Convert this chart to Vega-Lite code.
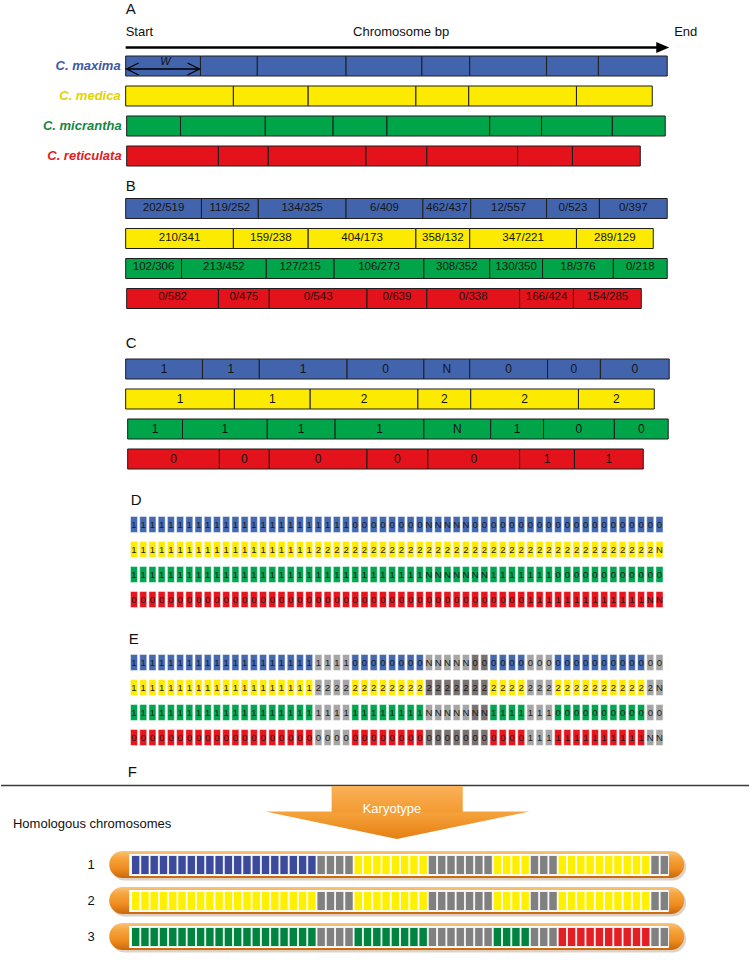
{
"$schema":"https://vega.github.io/schema/vega-lite/v6.json",
"width":750,"height":960,"padding":0,
"autosize":{"type":"fit","contains":"padding"},
"background":"white",
"config":{"view":{"stroke":null},"font":"Liberation Sans"},
"resolve":{"scale":{"x":"independent","y":"independent","color":"independent"}},
"datasets":{
"segs":[
{"p":"A","sp":"C. maxima","i":1,"s":125,"e":200,"l":""},
{"p":"A","sp":"C. maxima","i":2,"s":200,"e":257,"l":""},
{"p":"A","sp":"C. maxima","i":3,"s":257,"e":346,"l":""},
{"p":"A","sp":"C. maxima","i":4,"s":346,"e":422,"l":""},
{"p":"A","sp":"C. maxima","i":5,"s":422,"e":470,"l":""},
{"p":"A","sp":"C. maxima","i":6,"s":470,"e":547,"l":""},
{"p":"A","sp":"C. maxima","i":7,"s":547,"e":599,"l":""},
{"p":"A","sp":"C. maxima","i":8,"s":599,"e":668,"l":""},
{"p":"A","sp":"C. medica","i":1,"s":125,"e":233,"l":""},
{"p":"A","sp":"C. medica","i":2,"s":233,"e":308,"l":""},
{"p":"A","sp":"C. medica","i":3,"s":308,"e":416,"l":""},
{"p":"A","sp":"C. medica","i":4,"s":416,"e":469,"l":""},
{"p":"A","sp":"C. medica","i":5,"s":469,"e":577,"l":""},
{"p":"A","sp":"C. medica","i":6,"s":577,"e":653,"l":""},
{"p":"A","sp":"C. micrantha","i":1,"s":126,"e":180,"l":""},
{"p":"A","sp":"C. micrantha","i":2,"s":180,"e":265,"l":""},
{"p":"A","sp":"C. micrantha","i":3,"s":265,"e":333,"l":""},
{"p":"A","sp":"C. micrantha","i":4,"s":333,"e":387,"l":""},
{"p":"A","sp":"C. micrantha","i":5,"s":387,"e":490,"l":""},
{"p":"A","sp":"C. micrantha","i":6,"s":490,"e":542,"l":""},
{"p":"A","sp":"C. micrantha","i":7,"s":542,"e":613,"l":""},
{"p":"A","sp":"C. micrantha","i":8,"s":613,"e":666,"l":""},
{"p":"A","sp":"C. reticulata","i":1,"s":126,"e":218,"l":""},
{"p":"A","sp":"C. reticulata","i":2,"s":218,"e":268,"l":""},
{"p":"A","sp":"C. reticulata","i":3,"s":268,"e":366,"l":""},
{"p":"A","sp":"C. reticulata","i":4,"s":366,"e":427,"l":""},
{"p":"A","sp":"C. reticulata","i":5,"s":427,"e":518,"l":""},
{"p":"A","sp":"C. reticulata","i":6,"s":518,"e":573,"l":""},
{"p":"A","sp":"C. reticulata","i":7,"s":573,"e":641,"l":""},
{"p":"B","sp":"C. maxima","i":1,"s":125,"e":201,"l":"202/519"},
{"p":"B","sp":"C. maxima","i":2,"s":201,"e":258,"l":"119/252"},
{"p":"B","sp":"C. maxima","i":3,"s":258,"e":346,"l":"134/325"},
{"p":"B","sp":"C. maxima","i":4,"s":346,"e":423,"l":"6/409"},
{"p":"B","sp":"C. maxima","i":5,"s":423,"e":471,"l":"462/437"},
{"p":"B","sp":"C. maxima","i":6,"s":471,"e":547,"l":"12/557"},
{"p":"B","sp":"C. maxima","i":7,"s":547,"e":600,"l":"0/523"},
{"p":"B","sp":"C. maxima","i":8,"s":600,"e":668,"l":"0/397"},
{"p":"B","sp":"C. medica","i":1,"s":125,"e":233,"l":"210/341"},
{"p":"B","sp":"C. medica","i":2,"s":233,"e":308,"l":"159/238"},
{"p":"B","sp":"C. medica","i":3,"s":308,"e":416,"l":"404/173"},
{"p":"B","sp":"C. medica","i":4,"s":416,"e":470,"l":"358/132"},
{"p":"B","sp":"C. medica","i":5,"s":470,"e":577,"l":"347/221"},
{"p":"B","sp":"C. medica","i":6,"s":577,"e":654,"l":"289/129"},
{"p":"B","sp":"C. micrantha","i":1,"s":125,"e":181,"l":"102/306"},
{"p":"B","sp":"C. micrantha","i":2,"s":181,"e":266,"l":"213/452"},
{"p":"B","sp":"C. micrantha","i":3,"s":266,"e":334,"l":"127/215"},
{"p":"B","sp":"C. micrantha","i":4,"s":334,"e":424,"l":"106/273"},
{"p":"B","sp":"C. micrantha","i":5,"s":424,"e":490,"l":"308/352"},
{"p":"B","sp":"C. micrantha","i":6,"s":490,"e":543,"l":"130/350"},
{"p":"B","sp":"C. micrantha","i":7,"s":543,"e":614,"l":"18/376"},
{"p":"B","sp":"C. micrantha","i":8,"s":614,"e":668,"l":"0/218"},
{"p":"B","sp":"C. reticulata","i":1,"s":126,"e":218,"l":"0/582"},
{"p":"B","sp":"C. reticulata","i":2,"s":218,"e":269,"l":"0/475"},
{"p":"B","sp":"C. reticulata","i":3,"s":269,"e":367,"l":"0/543"},
{"p":"B","sp":"C. reticulata","i":4,"s":367,"e":427,"l":"0/639"},
{"p":"B","sp":"C. reticulata","i":5,"s":427,"e":520,"l":"0/338"},
{"p":"B","sp":"C. reticulata","i":6,"s":520,"e":574,"l":"166/424"},
{"p":"B","sp":"C. reticulata","i":7,"s":574,"e":642,"l":"154/285"},
{"p":"C","sp":"C. maxima","i":1,"s":125,"e":202,"l":"1"},
{"p":"C","sp":"C. maxima","i":2,"s":202,"e":259,"l":"1"},
{"p":"C","sp":"C. maxima","i":3,"s":259,"e":347,"l":"1"},
{"p":"C","sp":"C. maxima","i":4,"s":347,"e":424,"l":"0"},
{"p":"C","sp":"C. maxima","i":5,"s":424,"e":470,"l":"N"},
{"p":"C","sp":"C. maxima","i":6,"s":470,"e":548,"l":"0"},
{"p":"C","sp":"C. maxima","i":7,"s":548,"e":601,"l":"0"},
{"p":"C","sp":"C. maxima","i":8,"s":601,"e":670,"l":"0"},
{"p":"C","sp":"C. medica","i":1,"s":125,"e":234,"l":"1"},
{"p":"C","sp":"C. medica","i":2,"s":234,"e":310,"l":"1"},
{"p":"C","sp":"C. medica","i":3,"s":310,"e":418,"l":"2"},
{"p":"C","sp":"C. medica","i":4,"s":418,"e":471,"l":"2"},
{"p":"C","sp":"C. medica","i":5,"s":471,"e":579,"l":"2"},
{"p":"C","sp":"C. medica","i":6,"s":579,"e":655,"l":"2"},
{"p":"C","sp":"C. micrantha","i":1,"s":127,"e":182,"l":"1"},
{"p":"C","sp":"C. micrantha","i":2,"s":182,"e":267,"l":"1"},
{"p":"C","sp":"C. micrantha","i":3,"s":267,"e":335,"l":"1"},
{"p":"C","sp":"C. micrantha","i":4,"s":335,"e":424,"l":"1"},
{"p":"C","sp":"C. micrantha","i":5,"s":424,"e":491,"l":"N"},
{"p":"C","sp":"C. micrantha","i":6,"s":491,"e":544,"l":"1"},
{"p":"C","sp":"C. micrantha","i":7,"s":544,"e":615,"l":"0"},
{"p":"C","sp":"C. micrantha","i":8,"s":615,"e":669,"l":"0"},
{"p":"C","sp":"C. reticulata","i":1,"s":127,"e":219,"l":"0"},
{"p":"C","sp":"C. reticulata","i":2,"s":219,"e":269,"l":"0"},
{"p":"C","sp":"C. reticulata","i":3,"s":269,"e":367,"l":"0"},
{"p":"C","sp":"C. reticulata","i":4,"s":367,"e":428,"l":"0"},
{"p":"C","sp":"C. reticulata","i":5,"s":428,"e":520,"l":"0"},
{"p":"C","sp":"C. reticulata","i":6,"s":520,"e":575,"l":"1"},
{"p":"C","sp":"C. reticulata","i":7,"s":575,"e":644,"l":"1"}
],
"cells":[
{"sp":"maxima","k":0,"v":"1","e":"maxima"},{"sp":"maxima","k":1,"v":"1","e":"maxima"},{"sp":"maxima","k":2,"v":"1","e":"maxima"},{"sp":"maxima","k":3,"v":"1","e":"maxima"},{"sp":"maxima","k":4,"v":"1","e":"maxima"},{"sp":"maxima","k":5,"v":"1","e":"maxima"},{"sp":"maxima","k":6,"v":"1","e":"maxima"},{"sp":"maxima","k":7,"v":"1","e":"maxima"},{"sp":"maxima","k":8,"v":"1","e":"maxima"},{"sp":"maxima","k":9,"v":"1","e":"maxima"},
{"sp":"maxima","k":10,"v":"1","e":"maxima"},{"sp":"maxima","k":11,"v":"1","e":"maxima"},{"sp":"maxima","k":12,"v":"1","e":"maxima"},{"sp":"maxima","k":13,"v":"1","e":"maxima"},{"sp":"maxima","k":14,"v":"1","e":"maxima"},{"sp":"maxima","k":15,"v":"1","e":"maxima"},{"sp":"maxima","k":16,"v":"1","e":"maxima"},{"sp":"maxima","k":17,"v":"1","e":"maxima"},{"sp":"maxima","k":18,"v":"1","e":"maxima"},{"sp":"maxima","k":19,"v":"1","e":"maxima"},
{"sp":"maxima","k":20,"v":"1","e":"gray"},{"sp":"maxima","k":21,"v":"1","e":"gray"},{"sp":"maxima","k":22,"v":"1","e":"gray"},{"sp":"maxima","k":23,"v":"1","e":"gray"},
{"sp":"maxima","k":24,"v":"0","e":"maxima"},{"sp":"maxima","k":25,"v":"0","e":"maxima"},{"sp":"maxima","k":26,"v":"0","e":"maxima"},{"sp":"maxima","k":27,"v":"0","e":"maxima"},{"sp":"maxima","k":28,"v":"0","e":"maxima"},{"sp":"maxima","k":29,"v":"0","e":"maxima"},{"sp":"maxima","k":30,"v":"0","e":"maxima"},{"sp":"maxima","k":31,"v":"0","e":"maxima"},
{"sp":"maxima","k":32,"v":"N","e":"gray"},{"sp":"maxima","k":33,"v":"N","e":"gray"},{"sp":"maxima","k":34,"v":"N","e":"gray"},{"sp":"maxima","k":35,"v":"N","e":"gray"},{"sp":"maxima","k":36,"v":"N","e":"gray"},
{"sp":"maxima","k":37,"v":"0","e":"dark"},{"sp":"maxima","k":38,"v":"0","e":"dark"},
{"sp":"maxima","k":39,"v":"0","e":"maxima"},{"sp":"maxima","k":40,"v":"0","e":"maxima"},{"sp":"maxima","k":41,"v":"0","e":"maxima"},{"sp":"maxima","k":42,"v":"0","e":"maxima"},
{"sp":"maxima","k":43,"v":"0","e":"gray"},{"sp":"maxima","k":44,"v":"0","e":"gray"},{"sp":"maxima","k":45,"v":"0","e":"gray"},
{"sp":"maxima","k":46,"v":"0","e":"maxima"},{"sp":"maxima","k":47,"v":"0","e":"maxima"},{"sp":"maxima","k":48,"v":"0","e":"maxima"},{"sp":"maxima","k":49,"v":"0","e":"maxima"},{"sp":"maxima","k":50,"v":"0","e":"maxima"},{"sp":"maxima","k":51,"v":"0","e":"maxima"},{"sp":"maxima","k":52,"v":"0","e":"maxima"},{"sp":"maxima","k":53,"v":"0","e":"maxima"},{"sp":"maxima","k":54,"v":"0","e":"maxima"},{"sp":"maxima","k":55,"v":"0","e":"maxima"},
{"sp":"maxima","k":56,"v":"0","e":"gray"},{"sp":"maxima","k":57,"v":"0","e":"gray"},
{"sp":"medica","k":0,"v":"1","e":"medica"},{"sp":"medica","k":1,"v":"1","e":"medica"},{"sp":"medica","k":2,"v":"1","e":"medica"},{"sp":"medica","k":3,"v":"1","e":"medica"},{"sp":"medica","k":4,"v":"1","e":"medica"},{"sp":"medica","k":5,"v":"1","e":"medica"},{"sp":"medica","k":6,"v":"1","e":"medica"},{"sp":"medica","k":7,"v":"1","e":"medica"},{"sp":"medica","k":8,"v":"1","e":"medica"},{"sp":"medica","k":9,"v":"1","e":"medica"},
{"sp":"medica","k":10,"v":"1","e":"medica"},{"sp":"medica","k":11,"v":"1","e":"medica"},{"sp":"medica","k":12,"v":"1","e":"medica"},{"sp":"medica","k":13,"v":"1","e":"medica"},{"sp":"medica","k":14,"v":"1","e":"medica"},{"sp":"medica","k":15,"v":"1","e":"medica"},{"sp":"medica","k":16,"v":"1","e":"medica"},{"sp":"medica","k":17,"v":"1","e":"medica"},{"sp":"medica","k":18,"v":"1","e":"medica"},{"sp":"medica","k":19,"v":"1","e":"medica"},
{"sp":"medica","k":20,"v":"2","e":"gray"},{"sp":"medica","k":21,"v":"2","e":"gray"},{"sp":"medica","k":22,"v":"2","e":"gray"},{"sp":"medica","k":23,"v":"2","e":"gray"},
{"sp":"medica","k":24,"v":"2","e":"medica"},{"sp":"medica","k":25,"v":"2","e":"medica"},{"sp":"medica","k":26,"v":"2","e":"medica"},{"sp":"medica","k":27,"v":"2","e":"medica"},{"sp":"medica","k":28,"v":"2","e":"medica"},{"sp":"medica","k":29,"v":"2","e":"medica"},{"sp":"medica","k":30,"v":"2","e":"medica"},{"sp":"medica","k":31,"v":"2","e":"medica"},
{"sp":"medica","k":32,"v":"2","e":"dark"},{"sp":"medica","k":33,"v":"2","e":"dark"},{"sp":"medica","k":34,"v":"2","e":"dark"},{"sp":"medica","k":35,"v":"2","e":"dark"},{"sp":"medica","k":36,"v":"2","e":"dark"},{"sp":"medica","k":37,"v":"2","e":"dark"},{"sp":"medica","k":38,"v":"2","e":"dark"},
{"sp":"medica","k":39,"v":"2","e":"medica"},{"sp":"medica","k":40,"v":"2","e":"medica"},{"sp":"medica","k":41,"v":"2","e":"medica"},{"sp":"medica","k":42,"v":"2","e":"medica"},
{"sp":"medica","k":43,"v":"2","e":"gray"},{"sp":"medica","k":44,"v":"2","e":"gray"},{"sp":"medica","k":45,"v":"2","e":"gray"},
{"sp":"medica","k":46,"v":"2","e":"medica"},{"sp":"medica","k":47,"v":"2","e":"medica"},{"sp":"medica","k":48,"v":"2","e":"medica"},{"sp":"medica","k":49,"v":"2","e":"medica"},{"sp":"medica","k":50,"v":"2","e":"medica"},{"sp":"medica","k":51,"v":"2","e":"medica"},{"sp":"medica","k":52,"v":"2","e":"medica"},{"sp":"medica","k":53,"v":"2","e":"medica"},{"sp":"medica","k":54,"v":"2","e":"medica"},{"sp":"medica","k":55,"v":"2","e":"medica"},
{"sp":"medica","k":56,"v":"2","e":"gray"},{"sp":"medica","k":57,"v":"N","e":"gray"},
{"sp":"micrantha","k":0,"v":"1","e":"micrantha"},{"sp":"micrantha","k":1,"v":"1","e":"micrantha"},{"sp":"micrantha","k":2,"v":"1","e":"micrantha"},{"sp":"micrantha","k":3,"v":"1","e":"micrantha"},{"sp":"micrantha","k":4,"v":"1","e":"micrantha"},{"sp":"micrantha","k":5,"v":"1","e":"micrantha"},{"sp":"micrantha","k":6,"v":"1","e":"micrantha"},{"sp":"micrantha","k":7,"v":"1","e":"micrantha"},{"sp":"micrantha","k":8,"v":"1","e":"micrantha"},{"sp":"micrantha","k":9,"v":"1","e":"micrantha"},
{"sp":"micrantha","k":10,"v":"1","e":"micrantha"},{"sp":"micrantha","k":11,"v":"1","e":"micrantha"},{"sp":"micrantha","k":12,"v":"1","e":"micrantha"},{"sp":"micrantha","k":13,"v":"1","e":"micrantha"},{"sp":"micrantha","k":14,"v":"1","e":"micrantha"},{"sp":"micrantha","k":15,"v":"1","e":"micrantha"},{"sp":"micrantha","k":16,"v":"1","e":"micrantha"},{"sp":"micrantha","k":17,"v":"1","e":"micrantha"},{"sp":"micrantha","k":18,"v":"1","e":"micrantha"},{"sp":"micrantha","k":19,"v":"1","e":"micrantha"},
{"sp":"micrantha","k":20,"v":"1","e":"gray"},{"sp":"micrantha","k":21,"v":"1","e":"gray"},{"sp":"micrantha","k":22,"v":"1","e":"gray"},{"sp":"micrantha","k":23,"v":"1","e":"gray"},
{"sp":"micrantha","k":24,"v":"1","e":"micrantha"},{"sp":"micrantha","k":25,"v":"1","e":"micrantha"},{"sp":"micrantha","k":26,"v":"1","e":"micrantha"},{"sp":"micrantha","k":27,"v":"1","e":"micrantha"},{"sp":"micrantha","k":28,"v":"1","e":"micrantha"},{"sp":"micrantha","k":29,"v":"1","e":"micrantha"},{"sp":"micrantha","k":30,"v":"1","e":"micrantha"},{"sp":"micrantha","k":31,"v":"1","e":"micrantha"},
{"sp":"micrantha","k":32,"v":"N","e":"gray"},{"sp":"micrantha","k":33,"v":"N","e":"gray"},{"sp":"micrantha","k":34,"v":"N","e":"gray"},{"sp":"micrantha","k":35,"v":"N","e":"gray"},{"sp":"micrantha","k":36,"v":"N","e":"gray"},
{"sp":"micrantha","k":37,"v":"N","e":"dark"},{"sp":"micrantha","k":38,"v":"N","e":"dark"},
{"sp":"micrantha","k":39,"v":"1","e":"micrantha"},{"sp":"micrantha","k":40,"v":"1","e":"micrantha"},{"sp":"micrantha","k":41,"v":"1","e":"micrantha"},{"sp":"micrantha","k":42,"v":"1","e":"micrantha"},
{"sp":"micrantha","k":43,"v":"1","e":"gray"},{"sp":"micrantha","k":44,"v":"1","e":"gray"},{"sp":"micrantha","k":45,"v":"1","e":"gray"},
{"sp":"micrantha","k":46,"v":"0","e":"micrantha"},{"sp":"micrantha","k":47,"v":"0","e":"micrantha"},{"sp":"micrantha","k":48,"v":"0","e":"micrantha"},{"sp":"micrantha","k":49,"v":"0","e":"micrantha"},{"sp":"micrantha","k":50,"v":"0","e":"micrantha"},{"sp":"micrantha","k":51,"v":"0","e":"micrantha"},{"sp":"micrantha","k":52,"v":"0","e":"micrantha"},{"sp":"micrantha","k":53,"v":"0","e":"micrantha"},{"sp":"micrantha","k":54,"v":"0","e":"micrantha"},{"sp":"micrantha","k":55,"v":"0","e":"micrantha"},
{"sp":"micrantha","k":56,"v":"0","e":"gray"},{"sp":"micrantha","k":57,"v":"0","e":"gray"},
{"sp":"reticulata","k":0,"v":"0","e":"reticulata"},{"sp":"reticulata","k":1,"v":"0","e":"reticulata"},{"sp":"reticulata","k":2,"v":"0","e":"reticulata"},{"sp":"reticulata","k":3,"v":"0","e":"reticulata"},{"sp":"reticulata","k":4,"v":"0","e":"reticulata"},{"sp":"reticulata","k":5,"v":"0","e":"reticulata"},{"sp":"reticulata","k":6,"v":"0","e":"reticulata"},{"sp":"reticulata","k":7,"v":"0","e":"reticulata"},{"sp":"reticulata","k":8,"v":"0","e":"reticulata"},{"sp":"reticulata","k":9,"v":"0","e":"reticulata"},
{"sp":"reticulata","k":10,"v":"0","e":"reticulata"},{"sp":"reticulata","k":11,"v":"0","e":"reticulata"},{"sp":"reticulata","k":12,"v":"0","e":"reticulata"},{"sp":"reticulata","k":13,"v":"0","e":"reticulata"},{"sp":"reticulata","k":14,"v":"0","e":"reticulata"},{"sp":"reticulata","k":15,"v":"0","e":"reticulata"},{"sp":"reticulata","k":16,"v":"0","e":"reticulata"},{"sp":"reticulata","k":17,"v":"0","e":"reticulata"},{"sp":"reticulata","k":18,"v":"0","e":"reticulata"},{"sp":"reticulata","k":19,"v":"0","e":"reticulata"},
{"sp":"reticulata","k":20,"v":"0","e":"gray"},{"sp":"reticulata","k":21,"v":"0","e":"gray"},{"sp":"reticulata","k":22,"v":"0","e":"gray"},{"sp":"reticulata","k":23,"v":"0","e":"gray"},
{"sp":"reticulata","k":24,"v":"0","e":"reticulata"},{"sp":"reticulata","k":25,"v":"0","e":"reticulata"},{"sp":"reticulata","k":26,"v":"0","e":"reticulata"},{"sp":"reticulata","k":27,"v":"0","e":"reticulata"},{"sp":"reticulata","k":28,"v":"0","e":"reticulata"},{"sp":"reticulata","k":29,"v":"0","e":"reticulata"},{"sp":"reticulata","k":30,"v":"0","e":"reticulata"},{"sp":"reticulata","k":31,"v":"0","e":"reticulata"},
{"sp":"reticulata","k":32,"v":"0","e":"dark"},{"sp":"reticulata","k":33,"v":"0","e":"dark"},{"sp":"reticulata","k":34,"v":"0","e":"dark"},{"sp":"reticulata","k":35,"v":"0","e":"dark"},{"sp":"reticulata","k":36,"v":"0","e":"dark"},{"sp":"reticulata","k":37,"v":"0","e":"dark"},{"sp":"reticulata","k":38,"v":"0","e":"dark"},
{"sp":"reticulata","k":39,"v":"0","e":"reticulata"},{"sp":"reticulata","k":40,"v":"0","e":"reticulata"},{"sp":"reticulata","k":41,"v":"0","e":"reticulata"},{"sp":"reticulata","k":42,"v":"0","e":"reticulata"},
{"sp":"reticulata","k":43,"v":"1","e":"gray"},{"sp":"reticulata","k":44,"v":"1","e":"gray"},{"sp":"reticulata","k":45,"v":"1","e":"gray"},
{"sp":"reticulata","k":46,"v":"1","e":"reticulata"},{"sp":"reticulata","k":47,"v":"1","e":"reticulata"},{"sp":"reticulata","k":48,"v":"1","e":"reticulata"},{"sp":"reticulata","k":49,"v":"1","e":"reticulata"},{"sp":"reticulata","k":50,"v":"1","e":"reticulata"},{"sp":"reticulata","k":51,"v":"1","e":"reticulata"},{"sp":"reticulata","k":52,"v":"1","e":"reticulata"},{"sp":"reticulata","k":53,"v":"1","e":"reticulata"},{"sp":"reticulata","k":54,"v":"1","e":"reticulata"},{"sp":"reticulata","k":55,"v":"1","e":"reticulata"},
{"sp":"reticulata","k":56,"v":"N","e":"gray"},{"sp":"reticulata","k":57,"v":"N","e":"gray"}
],
"fcells":[
{"chr":"1","k":0,"c":"maxima"},{"chr":"1","k":1,"c":"maxima"},{"chr":"1","k":2,"c":"maxima"},{"chr":"1","k":3,"c":"maxima"},{"chr":"1","k":4,"c":"maxima"},{"chr":"1","k":5,"c":"maxima"},{"chr":"1","k":6,"c":"maxima"},{"chr":"1","k":7,"c":"maxima"},{"chr":"1","k":8,"c":"maxima"},{"chr":"1","k":9,"c":"maxima"},
{"chr":"1","k":10,"c":"maxima"},{"chr":"1","k":11,"c":"maxima"},{"chr":"1","k":12,"c":"maxima"},{"chr":"1","k":13,"c":"maxima"},{"chr":"1","k":14,"c":"maxima"},{"chr":"1","k":15,"c":"maxima"},{"chr":"1","k":16,"c":"maxima"},{"chr":"1","k":17,"c":"maxima"},{"chr":"1","k":18,"c":"maxima"},{"chr":"1","k":19,"c":"maxima"},
{"chr":"1","k":20,"c":"gray"},{"chr":"1","k":21,"c":"gray"},{"chr":"1","k":22,"c":"gray"},{"chr":"1","k":23,"c":"gray"},
{"chr":"1","k":24,"c":"medica"},{"chr":"1","k":25,"c":"medica"},{"chr":"1","k":26,"c":"medica"},{"chr":"1","k":27,"c":"medica"},{"chr":"1","k":28,"c":"medica"},{"chr":"1","k":29,"c":"medica"},{"chr":"1","k":30,"c":"medica"},{"chr":"1","k":31,"c":"medica"},
{"chr":"1","k":32,"c":"gray"},{"chr":"1","k":33,"c":"gray"},{"chr":"1","k":34,"c":"gray"},{"chr":"1","k":35,"c":"gray"},{"chr":"1","k":36,"c":"gray"},{"chr":"1","k":37,"c":"gray"},{"chr":"1","k":38,"c":"gray"},
{"chr":"1","k":39,"c":"medica"},{"chr":"1","k":40,"c":"medica"},{"chr":"1","k":41,"c":"medica"},{"chr":"1","k":42,"c":"medica"},
{"chr":"1","k":43,"c":"gray"},{"chr":"1","k":44,"c":"gray"},{"chr":"1","k":45,"c":"gray"},
{"chr":"1","k":46,"c":"medica"},{"chr":"1","k":47,"c":"medica"},{"chr":"1","k":48,"c":"medica"},{"chr":"1","k":49,"c":"medica"},{"chr":"1","k":50,"c":"medica"},{"chr":"1","k":51,"c":"medica"},{"chr":"1","k":52,"c":"medica"},{"chr":"1","k":53,"c":"medica"},{"chr":"1","k":54,"c":"medica"},{"chr":"1","k":55,"c":"medica"},
{"chr":"1","k":56,"c":"gray"},{"chr":"1","k":57,"c":"gray"},
{"chr":"2","k":0,"c":"medica"},{"chr":"2","k":1,"c":"medica"},{"chr":"2","k":2,"c":"medica"},{"chr":"2","k":3,"c":"medica"},{"chr":"2","k":4,"c":"medica"},{"chr":"2","k":5,"c":"medica"},{"chr":"2","k":6,"c":"medica"},{"chr":"2","k":7,"c":"medica"},{"chr":"2","k":8,"c":"medica"},{"chr":"2","k":9,"c":"medica"},
{"chr":"2","k":10,"c":"medica"},{"chr":"2","k":11,"c":"medica"},{"chr":"2","k":12,"c":"medica"},{"chr":"2","k":13,"c":"medica"},{"chr":"2","k":14,"c":"medica"},{"chr":"2","k":15,"c":"medica"},{"chr":"2","k":16,"c":"medica"},{"chr":"2","k":17,"c":"medica"},{"chr":"2","k":18,"c":"medica"},{"chr":"2","k":19,"c":"medica"},
{"chr":"2","k":20,"c":"gray"},{"chr":"2","k":21,"c":"gray"},{"chr":"2","k":22,"c":"gray"},{"chr":"2","k":23,"c":"gray"},
{"chr":"2","k":24,"c":"medica"},{"chr":"2","k":25,"c":"medica"},{"chr":"2","k":26,"c":"medica"},{"chr":"2","k":27,"c":"medica"},{"chr":"2","k":28,"c":"medica"},{"chr":"2","k":29,"c":"medica"},{"chr":"2","k":30,"c":"medica"},{"chr":"2","k":31,"c":"medica"},
{"chr":"2","k":32,"c":"gray"},{"chr":"2","k":33,"c":"gray"},{"chr":"2","k":34,"c":"gray"},{"chr":"2","k":35,"c":"gray"},{"chr":"2","k":36,"c":"gray"},{"chr":"2","k":37,"c":"gray"},{"chr":"2","k":38,"c":"gray"},
{"chr":"2","k":39,"c":"medica"},{"chr":"2","k":40,"c":"medica"},{"chr":"2","k":41,"c":"medica"},{"chr":"2","k":42,"c":"medica"},
{"chr":"2","k":43,"c":"gray"},{"chr":"2","k":44,"c":"gray"},{"chr":"2","k":45,"c":"gray"},
{"chr":"2","k":46,"c":"medica"},{"chr":"2","k":47,"c":"medica"},{"chr":"2","k":48,"c":"medica"},{"chr":"2","k":49,"c":"medica"},{"chr":"2","k":50,"c":"medica"},{"chr":"2","k":51,"c":"medica"},{"chr":"2","k":52,"c":"medica"},{"chr":"2","k":53,"c":"medica"},{"chr":"2","k":54,"c":"medica"},{"chr":"2","k":55,"c":"medica"},
{"chr":"2","k":56,"c":"gray"},{"chr":"2","k":57,"c":"gray"},
{"chr":"3","k":0,"c":"micrantha"},{"chr":"3","k":1,"c":"micrantha"},{"chr":"3","k":2,"c":"micrantha"},{"chr":"3","k":3,"c":"micrantha"},{"chr":"3","k":4,"c":"micrantha"},{"chr":"3","k":5,"c":"micrantha"},{"chr":"3","k":6,"c":"micrantha"},{"chr":"3","k":7,"c":"micrantha"},{"chr":"3","k":8,"c":"micrantha"},{"chr":"3","k":9,"c":"micrantha"},
{"chr":"3","k":10,"c":"micrantha"},{"chr":"3","k":11,"c":"micrantha"},{"chr":"3","k":12,"c":"micrantha"},{"chr":"3","k":13,"c":"micrantha"},{"chr":"3","k":14,"c":"micrantha"},{"chr":"3","k":15,"c":"micrantha"},{"chr":"3","k":16,"c":"micrantha"},{"chr":"3","k":17,"c":"micrantha"},{"chr":"3","k":18,"c":"micrantha"},{"chr":"3","k":19,"c":"micrantha"},
{"chr":"3","k":20,"c":"gray"},{"chr":"3","k":21,"c":"gray"},{"chr":"3","k":22,"c":"gray"},{"chr":"3","k":23,"c":"gray"},
{"chr":"3","k":24,"c":"micrantha"},{"chr":"3","k":25,"c":"micrantha"},{"chr":"3","k":26,"c":"micrantha"},{"chr":"3","k":27,"c":"micrantha"},{"chr":"3","k":28,"c":"micrantha"},{"chr":"3","k":29,"c":"micrantha"},{"chr":"3","k":30,"c":"micrantha"},{"chr":"3","k":31,"c":"micrantha"},
{"chr":"3","k":32,"c":"gray"},{"chr":"3","k":33,"c":"gray"},{"chr":"3","k":34,"c":"gray"},{"chr":"3","k":35,"c":"gray"},{"chr":"3","k":36,"c":"gray"},{"chr":"3","k":37,"c":"gray"},{"chr":"3","k":38,"c":"gray"},
{"chr":"3","k":39,"c":"micrantha"},{"chr":"3","k":40,"c":"micrantha"},{"chr":"3","k":41,"c":"micrantha"},{"chr":"3","k":42,"c":"micrantha"},
{"chr":"3","k":43,"c":"gray"},{"chr":"3","k":44,"c":"gray"},{"chr":"3","k":45,"c":"gray"},
{"chr":"3","k":46,"c":"reticulata"},{"chr":"3","k":47,"c":"reticulata"},{"chr":"3","k":48,"c":"reticulata"},{"chr":"3","k":49,"c":"reticulata"},{"chr":"3","k":50,"c":"reticulata"},{"chr":"3","k":51,"c":"reticulata"},{"chr":"3","k":52,"c":"reticulata"},{"chr":"3","k":53,"c":"reticulata"},{"chr":"3","k":54,"c":"reticulata"},{"chr":"3","k":55,"c":"reticulata"},
{"chr":"3","k":56,"c":"gray"},{"chr":"3","k":57,"c":"gray"}
],
"chroms":[
{"chr":"1","from":108.5,"to":685,"wf":128.5,"wt":669.5},
{"chr":"2","from":108.5,"to":685,"wf":128.5,"wt":669.5},
{"chr":"3","from":108.5,"to":685,"wf":128.5,"wt":669.5}
],
"notes":[
{"role":"panel","t":"A","x":125,"y":9},
{"role":"panel","t":"B","x":125,"y":186},
{"role":"panel","t":"C","x":125,"y":342.5},
{"role":"panel","t":"D","x":130,"y":500},
{"role":"panel","t":"E","x":128,"y":638.5},
{"role":"panel","t":"F","x":127,"y":772},
{"role":"note","t":"Start","x":125,"y":31.5},
{"role":"note","t":"Chromosome bp","x":353,"y":31.5},
{"role":"note","t":"End","x":675,"y":31.5},
{"role":"note","t":"Homologous chromosomes","x":12,"y":824},
{"role":"w","t":"W","x":165,"y":62},
{"role":"k","t":"Karyotype","x":392,"y":809}
]
},
"layer":[
{"data":{"values":[{"x":125,"x2":661,"y":47.5}]},"mark":{"type":"rule","color":"#000000","strokeWidth":2.5},
 "encoding":{"x":{"field":"x","type":"quantitative","scale":{"domain":[0,750],"nice":false,"zero":false},"axis":null},"x2":{"field":"x2"},"y":{"field":"y","type":"quantitative","scale":{"domain":[0,960],"nice":false,"zero":false,"reverse":true},"axis":null}}},
{"data":{"values":[{"x":0,"x2":750,"y":785.5}]},"mark":{"type":"rule","color":"#3a3a3a","strokeWidth":1.3},
 "encoding":{"x":{"field":"x","type":"quantitative","scale":{"domain":[0,750],"nice":false,"zero":false},"axis":null},"x2":{"field":"x2"},"y":{"field":"y","type":"quantitative","scale":{"domain":[0,960],"nice":false,"zero":false,"reverse":true},"axis":null}}},
{"data":{"values":[{"x":657,"y":42,"y2":53},{"x":670,"y":47.5,"y2":47.5}]},"mark":{"type":"area","color":"#000000","orient":"vertical"},
 "encoding":{"x":{"field":"x","type":"quantitative","scale":{"domain":[0,750],"nice":false,"zero":false},"axis":null},"y":{"field":"y","type":"quantitative","scale":{"domain":[0,960],"nice":false,"zero":false,"reverse":true},"axis":null},"y2":{"field":"y2"}}},
{"data":{"values":[{"x":265,"y":811.5,"y2":811.5},{"x":397,"y":811.5,"y2":839},{"x":530,"y":811.5,"y2":811.5}]},
 "mark":{"type":"area","orient":"vertical","fill":{"gradient":"linear","x1":0,"y1":0,"x2":0,"y2":1,"stops":[{"offset":0,"color":"#F6A43D"},{"offset":1,"color":"#E67F12"}]}},
 "encoding":{"x":{"field":"x","type":"quantitative","scale":{"domain":[0,750],"nice":false,"zero":false},"axis":null},"y":{"field":"y","type":"quantitative","scale":{"domain":[0,960],"nice":false,"zero":false,"reverse":true},"axis":null},"y2":{"field":"y2"}}},
{"data":{"values":[{"x":331.5,"x2":463,"y":786,"y2":812.5}]},
 "mark":{"type":"rect","fill":{"gradient":"linear","x1":0,"y1":0,"x2":0,"y2":1,"stops":[{"offset":0,"color":"#F9B25A"},{"offset":1,"color":"#F39A30"}]}},
 "encoding":{"x":{"field":"x","type":"quantitative","scale":{"domain":[0,750],"nice":false,"zero":false},"axis":null},"x2":{"field":"x2"},"y":{"field":"y","type":"quantitative","scale":{"domain":[0,960],"nice":false,"zero":false,"reverse":true},"axis":null},"y2":{"field":"y2"}}},
{"data":{"name":"chroms"},"mark":{"type":"rect","cornerRadius":13.5,"color":"#7a4a1a","opacity":0.25},
 "encoding":{"x":{"field":"from","type":"quantitative","scale":{"domain":[-2,748],"nice":false,"zero":false},"axis":null},"x2":{"field":"to"},"y":{"field":"chr","type":"nominal","scale":{"type":"band","domain":["1","2","3"],"range":[853.5,952.5],"paddingInner":0.25,"paddingOuter":0},"axis":null}}},
{"data":{"name":"chroms"},"mark":{"type":"rect","cornerRadius":13.5,"fill":{"gradient":"linear","x1":0,"y1":0,"x2":0,"y2":1,"stops":[{"offset":0,"color":"#FAC47E"},{"offset":0.25,"color":"#F6A53E"},{"offset":0.65,"color":"#EF8C1F"},{"offset":1,"color":"#C8680C"}]}},
 "encoding":{"x":{"field":"from","type":"quantitative","scale":{"domain":[0,750],"nice":false,"zero":false},"axis":null},"x2":{"field":"to"},"y":{"field":"chr","type":"nominal","scale":{"type":"band","domain":["1","2","3"],"range":[851,950],"paddingInner":0.25,"paddingOuter":0},"axis":null}}},
{"data":{"name":"chroms"},"mark":{"type":"rect","color":"#ffffff"},
 "encoding":{"x":{"field":"wf","type":"quantitative","scale":{"domain":[0,750],"nice":false,"zero":false},"axis":null},"x2":{"field":"wt"},"y":{"field":"chr","type":"nominal","scale":{"type":"band","domain":["1","2","3"],"range":[854,948],"paddingInner":0.3889,"paddingOuter":0},"axis":null}}},
{"data":{"name":"fcells"},"mark":{"type":"rect","stroke":"#ffffff","strokeWidth":0.8},
 "encoding":{"x":{"field":"k","type":"ordinal","scale":{"type":"band","range":[130.5,667.5],"paddingInner":0.1,"paddingOuter":0},"axis":null},
  "y":{"field":"chr","type":"nominal","scale":{"type":"band","domain":["1","2","3"],"range":[855.5,946.5],"paddingInner":0.4722,"paddingOuter":0},"axis":null},
  "color":{"field":"c","type":"nominal","scale":{"domain":["maxima","medica","micrantha","reticulata","gray"],"range":["#3C4A9C","#FFF000","#00843F","#E31E24","#808080"]},"legend":null}}},
{"data":{"name":"chroms"},"mark":{"type":"text","fontSize":13,"color":"#111111","dx":-18,"align":"center","baseline":"middle"},
 "encoding":{"x":{"field":"from","type":"quantitative","scale":{"domain":[0,750],"nice":false,"zero":false},"axis":null},"y":{"field":"chr","type":"nominal","scale":{"type":"band","domain":["1","2","3"],"range":[851,950],"paddingInner":0.25,"paddingOuter":0},"axis":null},"text":{"field":"chr"}}},
{"data":{"name":"segs"},"transform":[{"filter":"datum.p==='A'"}],"resolve":{"scale":{"color":"independent"}},
 "layer":[
  {"mark":{"type":"rect","stroke":"#1e1e1e","strokeWidth":1},
   "encoding":{"x":{"field":"s","type":"quantitative","scale":{"domain":[0,750],"nice":false,"zero":false},"axis":null},"x2":{"field":"e"},
    "y":{"field":"sp","type":"nominal","scale":{"type":"band","domain":["C. maxima","C. medica","C. micrantha","C. reticulata"],"range":[56,166],"paddingInner":0.3333,"paddingOuter":0},"axis":null},
    "color":{"field":"sp","type":"nominal","scale":{"domain":["C. maxima","C. medica","C. micrantha","C. reticulata"],"range":["#4264AD","#FCEA00","#00A54A","#E3121B"]},"legend":null}}},
  {"mark":{"type":"text","align":"right","baseline":"middle","dx":-5,"fontSize":13,"fontWeight":"bold","fontStyle":"italic"},
   "encoding":{"x":{"aggregate":"min","field":"s","type":"quantitative","scale":{"domain":[0,750],"nice":false,"zero":false},"axis":null},
    "y":{"field":"sp","type":"nominal","scale":{"type":"band","domain":["C. maxima","C. medica","C. micrantha","C. reticulata"],"range":[56,166],"paddingInner":0.3333,"paddingOuter":0},"axis":null},
    "text":{"field":"sp"},
    "color":{"field":"sp","type":"nominal","scale":{"domain":["C. maxima","C. medica","C. micrantha","C. reticulata"],"range":["#3F56A5","#E3D200","#16863F","#E01B22"]},"legend":null}}}
 ]},
{"data":{"values":[{"g":"s","o":0,"x":126,"y":69},{"g":"s","o":1,"x":199,"y":69},{"g":"l","o":0,"x":138,"y":63},{"g":"l","o":1,"x":126,"y":69},{"g":"l","o":2,"x":138,"y":75},{"g":"r","o":0,"x":187,"y":63},{"g":"r","o":1,"x":199,"y":69},{"g":"r","o":2,"x":187,"y":75}]},
 "mark":{"type":"line","color":"#000000","strokeWidth":1.3},
 "encoding":{"x":{"field":"x","type":"quantitative","scale":{"domain":[0,750],"nice":false,"zero":false},"axis":null},"y":{"field":"y","type":"quantitative","scale":{"domain":[0,960],"nice":false,"zero":false,"reverse":true},"axis":null},"detail":{"field":"g"},"order":{"field":"o"}}},
{"data":{"name":"segs"},"transform":[{"filter":"datum.p==='B'"}],
 "layer":[
  {"mark":{"type":"rect","stroke":"#1e1e1e","strokeWidth":1},
   "encoding":{"x":{"field":"s","type":"quantitative","scale":{"domain":[0,750],"nice":false,"zero":false},"axis":null},"x2":{"field":"e"},
    "y":{"field":"sp","type":"nominal","scale":{"type":"band","domain":["C. maxima","C. medica","C. micrantha","C. reticulata"],"range":[198.5,308.5],"paddingInner":0.3333,"paddingOuter":0},"axis":null},
    "color":{"field":"sp","type":"nominal","scale":{"domain":["C. maxima","C. medica","C. micrantha","C. reticulata"],"range":["#4264AD","#FCEA00","#00A54A","#E3121B"]},"legend":null}}},
  {"transform":[{"fold":["s","e"],"as":["side","pos"]}],
   "mark":{"type":"text","align":"center","baseline":"middle","fontSize":11.5,"color":"#141414","dy":-1},
   "encoding":{"x":{"aggregate":"mean","field":"pos","type":"quantitative","scale":{"domain":[0,750],"nice":false,"zero":false},"axis":null},
    "y":{"field":"sp","type":"nominal","scale":{"type":"band","domain":["C. maxima","C. medica","C. micrantha","C. reticulata"],"range":[198.5,308.5],"paddingInner":0.3333,"paddingOuter":0},"axis":null},
    "text":{"field":"l"},"detail":{"field":"i"}}}
 ]},
{"data":{"name":"segs"},"transform":[{"filter":"datum.p==='C'"}],
 "layer":[
  {"mark":{"type":"rect","stroke":"#1e1e1e","strokeWidth":1},
   "encoding":{"x":{"field":"s","type":"quantitative","scale":{"domain":[0,750],"nice":false,"zero":false},"axis":null},"x2":{"field":"e"},
    "y":{"field":"sp","type":"nominal","scale":{"type":"band","domain":["C. maxima","C. medica","C. micrantha","C. reticulata"],"range":[359,469],"paddingInner":0.3333,"paddingOuter":0},"axis":null},
    "color":{"field":"sp","type":"nominal","scale":{"domain":["C. maxima","C. medica","C. micrantha","C. reticulata"],"range":["#4264AD","#FCEA00","#00A54A","#E3121B"]},"legend":null}}},
  {"transform":[{"fold":["s","e"],"as":["side","pos"]}],
   "mark":{"type":"text","align":"center","baseline":"middle","fontSize":12,"color":"#141414"},
   "encoding":{"x":{"aggregate":"mean","field":"pos","type":"quantitative","scale":{"domain":[0,750],"nice":false,"zero":false},"axis":null},
    "y":{"field":"sp","type":"nominal","scale":{"type":"band","domain":["C. maxima","C. medica","C. micrantha","C. reticulata"],"range":[359,469],"paddingInner":0.3333,"paddingOuter":0},"axis":null},
    "text":{"field":"l"},"detail":{"field":"i"}}}
 ]},
{"data":{"name":"cells"},
 "layer":[
  {"mark":{"type":"rect","stroke":"#ffffff","strokeOpacity":0.45,"strokeWidth":1},
   "encoding":{"x":{"field":"k","type":"ordinal","scale":{"type":"band","range":[129.5,662],"paddingInner":0.24,"paddingOuter":0},"axis":null},
    "y":{"field":"sp","type":"nominal","scale":{"type":"band","domain":["maxima","medica","micrantha","reticulata"],"range":[516.5,607.5],"paddingInner":0.36,"paddingOuter":0},"axis":null},
    "color":{"field":"sp","type":"nominal","scale":{"domain":["maxima","medica","micrantha","reticulata"],"range":["#4569B1","#FFEB00","#00A650","#E8151F"]},"legend":null}}},
  {"mark":{"type":"text","fontSize":9.5,"color":"#1c1c1c","align":"center","baseline":"middle"},
   "encoding":{"x":{"field":"k","type":"ordinal","scale":{"type":"band","range":[129.5,662],"paddingInner":0.24,"paddingOuter":0},"axis":null},
    "y":{"field":"sp","type":"nominal","scale":{"type":"band","domain":["maxima","medica","micrantha","reticulata"],"range":[516.5,607.5],"paddingInner":0.36,"paddingOuter":0},"axis":null},
    "text":{"field":"v"}}}
 ]},
{"data":{"name":"cells"},
 "layer":[
  {"mark":{"type":"rect","stroke":"#ffffff","strokeOpacity":0.45,"strokeWidth":1},
   "encoding":{"x":{"field":"k","type":"ordinal","scale":{"type":"band","range":[129.5,662],"paddingInner":0.24,"paddingOuter":0},"axis":null},
    "y":{"field":"sp","type":"nominal","scale":{"type":"band","domain":["maxima","medica","micrantha","reticulata"],"range":[654.5,745.5],"paddingInner":0.36,"paddingOuter":0},"axis":null},
    "color":{"field":"e","type":"nominal","scale":{"domain":["maxima","medica","micrantha","reticulata","gray","dark"],"range":["#4569B1","#FFEB00","#00A650","#E8151F","#A5A5A5","#7A7070"]},"legend":null}}},
  {"mark":{"type":"text","fontSize":9.5,"color":"#1c1c1c","align":"center","baseline":"middle"},
   "encoding":{"x":{"field":"k","type":"ordinal","scale":{"type":"band","range":[129.5,662],"paddingInner":0.24,"paddingOuter":0},"axis":null},
    "y":{"field":"sp","type":"nominal","scale":{"type":"band","domain":["maxima","medica","micrantha","reticulata"],"range":[654.5,745.5],"paddingInner":0.36,"paddingOuter":0},"axis":null},
    "text":{"field":"v"}}}
 ]},
{"data":{"name":"notes"},"transform":[{"filter":"datum.role==='panel'"}],"mark":{"type":"text","align":"left","baseline":"middle","fontSize":15,"color":"#111111"},
 "encoding":{"x":{"field":"x","type":"quantitative","scale":{"domain":[0,750],"nice":false,"zero":false},"axis":null},"y":{"field":"y","type":"quantitative","scale":{"domain":[0,960],"nice":false,"zero":false,"reverse":true},"axis":null},"text":{"field":"t"}}},
{"data":{"name":"notes"},"transform":[{"filter":"datum.role==='note'"}],"mark":{"type":"text","align":"left","baseline":"middle","fontSize":13,"color":"#111111"},
 "encoding":{"x":{"field":"x","type":"quantitative","scale":{"domain":[0,750],"nice":false,"zero":false},"axis":null},"y":{"field":"y","type":"quantitative","scale":{"domain":[0,960],"nice":false,"zero":false,"reverse":true},"axis":null},"text":{"field":"t"}}},
{"data":{"name":"notes"},"transform":[{"filter":"datum.role==='w'"}],"mark":{"type":"text","align":"center","baseline":"middle","fontSize":11,"fontStyle":"italic","color":"#111111"},
 "encoding":{"x":{"field":"x","type":"quantitative","scale":{"domain":[0,750],"nice":false,"zero":false},"axis":null},"y":{"field":"y","type":"quantitative","scale":{"domain":[0,960],"nice":false,"zero":false,"reverse":true},"axis":null},"text":{"field":"t"}}},
{"data":{"name":"notes"},"transform":[{"filter":"datum.role==='k'"}],"mark":{"type":"text","align":"center","baseline":"middle","fontSize":13,"color":"#ffffff"},
 "encoding":{"x":{"field":"x","type":"quantitative","scale":{"domain":[0,750],"nice":false,"zero":false},"axis":null},"y":{"field":"y","type":"quantitative","scale":{"domain":[0,960],"nice":false,"zero":false,"reverse":true},"axis":null},"text":{"field":"t"}}}
]
}
